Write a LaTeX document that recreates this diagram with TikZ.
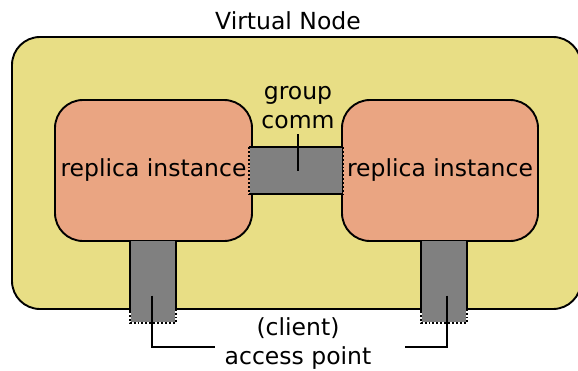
\documentclass[tikz,border=0pt]{standalone}
\usepackage{fontspec}
\setmainfont{DejaVu Sans}
\usetikzlibrary{positioning}
\definecolor{vnodeyellow}{RGB}{232,222,133}
\definecolor{replicaorange}{RGB}{234,165,130}
\definecolor{portgray}{RGB}{128,128,128}

\begin{document}
\begin{tikzpicture}[x=1pt,y=-1pt,line width=1.9pt,
    every node/.style={font=\fontsize{23.5}{29}\selectfont,inner sep=0pt},
    box/.style={draw,rounded corners=28pt},
    port/.style={fill=portgray}]
    \useasboundingbox (0,0) rectangle (578,370);

    % virtual node and the two replicas
    \node[box,fill=vnodeyellow,minimum width=569pt,minimum height=272pt] (vn) at (296.5,173) {};
    \node (vnlabel) at (288,21) {Virtual Node};
    \node[box,fill=replicaorange,minimum width=197pt,minimum height=141pt] (ra) at (153.5,170.5) {replica instance};
    \node[box,fill=replicaorange,minimum width=196pt,minimum height=141pt] (rb) at (440,170.5) {replica instance};

    % group communication link
    \node[port,minimum width=92pt,minimum height=45pt] (gc) at (296,170.5) {};
    \draw (gc.north west) -- (gc.north east) (gc.south west) -- (gc.south east);
    \draw[dotted] (gc.north west) -- (gc.south west) (gc.north east) -- (gc.south east);
    \node[align=center] (gclabel) at (298,108) {group\\comm};
    \draw ([yshift=-4pt]gclabel.south) -- (gclabel.south |- gc.center);

    % client access points
    \node[port,minimum width=44pt,minimum height=81pt] (pa) at (153,281.5) {};
    \node[port,minimum width=44pt,minimum height=81pt] (pb) at (444,281.5) {};
    \foreach \p in {pa,pb} {
        \draw (\p.north west) -- ([yshift=12pt]\p.south west)
              (\p.north east) -- ([yshift=12pt]\p.south east);
        \draw[dotted] ([yshift=12pt]\p.south west) -- (\p.south west)
              -- (\p.south east) -- ([yshift=12pt]\p.south east);
    }
    \node[align=center] (aplabel) at (298,344) {(client)\\access point};
    \coordinate (apa) at (215,347);
    \coordinate (apb) at (405,347);
    \draw ([xshift=-1pt,yshift=-14pt]pa.center) |- (apa);
    \draw ([xshift=3pt,yshift=-14pt]pb.center) |- (apb);
\end{tikzpicture}
\end{document}
